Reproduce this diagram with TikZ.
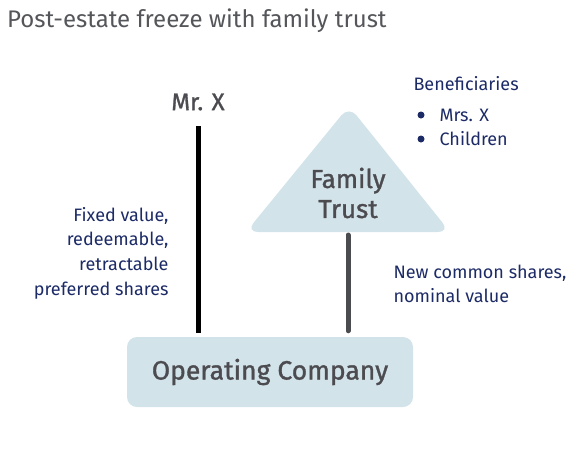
\documentclass[tikz,border=0pt]{standalone}
\usepackage{fontspec}
\setmainfont{Fira Sans}
\newfontfamily\medfont{Fira Sans}[FakeBold=1.2]
\usetikzlibrary{positioning}

\definecolor{boxblue}{HTML}{D2E3E9}
\definecolor{titlegray}{HTML}{55565A}
\definecolor{namegray}{HTML}{4B4B50}
\definecolor{navy}{HTML}{1C2A66}
\definecolor{linegray}{HTML}{4A4C50}

\tikzset{
  party/.style={text=namegray,font=\medfont\fontsize{26}{30}\selectfont,align=center},
  share/.style={text=navy,font=\fontsize{18}{24.7}\selectfont},
  holding/.style={line width=5pt},
}

\begin{document}
\begin{tikzpicture}[x=1pt,y=-1pt]
  \useasboundingbox (0,0) rectangle (578,453);
  \node[anchor=base west,text=titlegray,font=\fontsize{24}{28}\selectfont,inner sep=0pt] (title) at (7,27) {Post-estate freeze with family trust};

  % shareholders
  \node[party,font=\medfont\fontsize{24}{30}\selectfont] (mrx) at (198,102) {Mr. X};
  \fill[boxblue,rounded corners=12pt] (349,106) -- (450,232) -- (246,232) -- cycle;
  \node[party] (trust) at (348,193) {Family\\Trust};
  \coordinate (trustbase) at (348,235);
  \coordinate (mrxtop) at (198,126);

  % company
  \node[party,font=\medfont\fontsize{26.5}{30}\selectfont,fill=boxblue,rounded corners=10pt,minimum width=286pt,minimum height=70pt] (opco) at (270,372) {Operating Company};

  % shareholdings
  \draw[holding,black] (mrxtop) -- ([yshift=4pt]mrxtop |- opco.north);
  \draw[holding,linegray,line cap=round] (trustbase) -- ([yshift=6pt]trustbase |- opco.north);

  \node[share,align=right,anchor=east] (pref) at (172,253) {Fixed value,\\redeemable,\\retractable\\preferred shares};
  \node[share,align=left,anchor=west] (common) at (390,284) {New common shares,\\nominal value};

  % beneficiaries
  \node[share,anchor=west] (benef) at (410,84) {Beneficiaries};
  \node[share,anchor=west] (mrs) at (436,115) {Mrs. X};
  \node[share,anchor=west] (kids) at (436,139) {Children};
  \fill[navy] (421,115) circle (3.5pt) (421,139) circle (3.5pt);
\end{tikzpicture}
\end{document}
